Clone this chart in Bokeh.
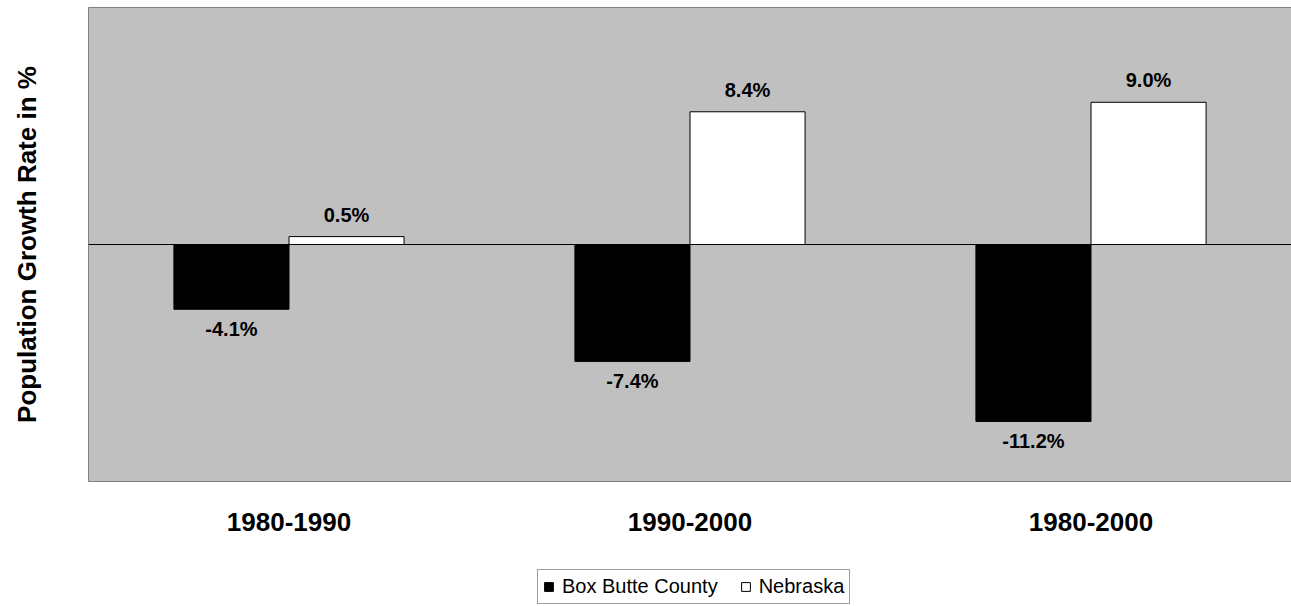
from bokeh.plotting import figure
from bokeh.models import (ColumnDataSource, LabelSet, Span, Legend, LegendItem, FixedTicker,
                          LinearAxis, Range1d)
from bokeh.layouts import column
from bokeh.transform import dodge
from bokeh.core.properties import value
from bokeh.embed import file_html
from bokeh.resources import INLINE

periods = ["1980-1990", "1990-2000", "1980-2000"]
box_butte = [-4.1, -7.4, -11.2]
nebraska = [0.5, 8.4, 9.0]
box_labels = ["-4.1%", "-7.4%", "-11.2%"]
neb_labels = ["0.5%", "8.4%", "9.0%"]
series_names = ["Box Butte County", "Nebraska"]

src = ColumnDataSource(dict(period=periods, bb=box_butte, ne=nebraska,
                            bbl=box_labels, nel=neb_labels))

FONT = "Liberation Sans"
BORDER = "#808080"

p = figure(x_range=periods, y_range=(-15, 15), width=1291, height=560,
           output_backend="svg", toolbar_location=None,
           min_border_left=88, min_border_top=7, min_border_right=0, min_border_bottom=79)
p.background_fill_color = "#c0c0c0"
p.border_fill_color = "white"
p.outline_line_color = None
p.grid.visible = False
p.x_range.range_padding = 0

w = 0.287
p.vbar(x=dodge("period", -w / 2, range=p.x_range), top="bb", bottom=0, width=w,
       source=src, fill_color="black", line_color="black", line_width=1)
p.vbar(x=dodge("period", w / 2, range=p.x_range), top="ne", bottom=0, width=w,
       source=src, fill_color="white", line_color="black", line_width=1)

p.add_layout(Span(location=0, dimension="width", line_color="black", line_width=1))

p.add_layout(LabelSet(x=dodge("period", -w / 2, range=p.x_range), y="bb", text="bbl",
                      source=src, text_align="center", text_baseline="middle", y_offset=-20,
                      text_font=value(FONT), text_font_style="bold", text_font_size="20px",
                      text_color="black"))
p.add_layout(LabelSet(x=dodge("period", w / 2, range=p.x_range), y="ne", text="nel",
                      source=src, text_align="center", text_baseline="middle", y_offset=22,
                      text_font=value(FONT), text_font_style="bold", text_font_size="20px",
                      text_color="black"))

p.xaxis.axis_line_color = BORDER
p.xaxis.major_tick_line_color = None
p.xaxis.minor_tick_line_color = None
p.xaxis.major_label_text_font = FONT
p.xaxis.major_label_text_font_style = "bold"
p.xaxis.major_label_text_font_size = "26px"
p.xaxis.major_label_text_color = "black"
p.xaxis.major_label_standoff = 25

p.yaxis.ticker = FixedTicker(ticks=[])
p.yaxis.axis_line_color = BORDER
p.yaxis.major_tick_line_color = None
p.yaxis.minor_tick_line_color = None
p.yaxis.axis_label = "Population Growth Rate in %"
p.yaxis.axis_label_text_font = FONT
p.yaxis.axis_label_text_font_style = "bold"
p.yaxis.axis_label_text_font_size = "26px"
p.yaxis.axis_label_text_color = "black"
p.yaxis.axis_label_standoff = 47

top_axis = LinearAxis(ticker=FixedTicker(ticks=[]), axis_line_color=BORDER,
                      major_tick_line_color=None, minor_tick_line_color=None,
                      major_tick_out=0, minor_tick_out=0, major_label_standoff=0)
p.add_layout(top_axis, "above")

# legend panel
lg = figure(width=1291, height=46, x_range=Range1d(0, 1), y_range=Range1d(0, 1),
            output_backend="svg", toolbar_location=None,
            min_border_left=0, min_border_right=0, min_border_top=0, min_border_bottom=0)
lg.axis.visible = False
lg.grid.visible = False
lg.outline_line_color = None
offscreen = ColumnDataSource(dict(x=[5.0], top=[5.0], bottom=[4.0]))
g1 = lg.vbar(x="x", top="top", bottom="bottom", width=0.1, source=offscreen,
             fill_color="black", line_color="black")
g2 = lg.vbar(x="x", top="top", bottom="bottom", width=0.1, source=offscreen,
             fill_color="white", line_color="black")
legend = Legend(items=[LegendItem(label=series_names[0], renderers=[g1]),
                       LegendItem(label=series_names[1], renderers=[g2])],
                orientation="horizontal", location=(449, 2),
                label_text_font=FONT, label_text_font_size="20px", label_text_color="black",
                border_line_color="#404040", border_line_width=1,
                glyph_width=11, glyph_height=11, label_standoff=8, spacing=22,
                padding=5, margin=0, background_fill_color="white")
lg.add_layout(legend, "center")

layout = column(p, lg, spacing=0)
open("out.html", "w").write(file_html(layout, INLINE))
